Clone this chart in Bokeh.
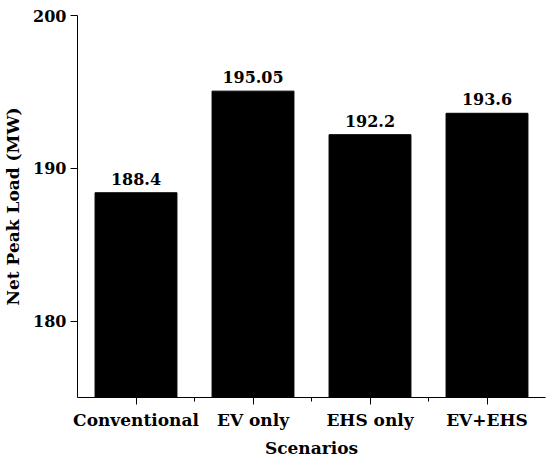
from bokeh.plotting import figure
from bokeh.models import ColumnDataSource, Range1d, FixedTicker
from bokeh.core.properties import value
from bokeh.embed import file_html
from bokeh.resources import INLINE

categories = ["Conventional", "EV only", "EHS only", "EV+EHS"]
values = [188.4, 195.05, 192.2, 193.6]
value_labels = ["188.4", "195.05", "192.2", "193.6"]
y_ticks = [180, 190, 200]

xs = [i + 0.5 for i in range(len(categories))]
FONT = "DejaVu Serif"

src = ColumnDataSource(dict(x=xs, top=values, label=value_labels))

p = figure(width=548, height=460, output_backend="svg", toolbar_location=None,
           x_range=Range1d(0, len(categories)), y_range=Range1d(175, 200),
           min_border_left=75, min_border_right=3, min_border_top=15, min_border_bottom=63)
p.outline_line_color = None
p.grid.visible = False
p.background_fill_color = "white"
p.border_fill_color = "white"

p.vbar(x="x", top="top", bottom=175, width=0.7, source=src,
       fill_color="black", line_color="black")

p.text(x="x", y="top", text="label", source=src, text_align="center",
       text_baseline="bottom", y_offset=-8, text_font=value(FONT),
       text_font_style="bold", text_font_size=value("16px"), text_color="black")

xa = p.xaxis[0]
xa.ticker = FixedTicker(ticks=xs, minor_ticks=[1, 2, 3])
xa.major_label_overrides = {x: c for x, c in zip(xs, categories)}
xa.axis_label = "Scenarios"
ya = p.yaxis[0]
ya.ticker = FixedTicker(ticks=y_ticks, minor_ticks=[])
ya.axis_label = "Net Peak Load (MW)"

for ax in (xa, ya):
    ax.major_label_text_font = FONT
    ax.major_label_text_font_style = "bold"
    ax.major_label_text_color = "black"
    ax.axis_label_text_font = FONT
    ax.axis_label_text_font_style = "bold"
    ax.axis_label_text_font_size = "17px"
    ax.axis_label_text_color = "black"
    ax.axis_line_color = "black"
    ax.major_tick_line_color = "black"
    ax.minor_tick_line_color = "black"
    ax.major_tick_out = 7
    ax.major_tick_in = 0
    ax.minor_tick_out = 4
    ax.minor_tick_in = 0

xa.major_label_text_font_size = "17px"
ya.major_label_text_font_size = "16px"
xa.major_label_standoff = 5
xa.axis_label_standoff = 5
ya.major_label_standoff = 4
ya.axis_label_standoff = 7

open("out.html", "w").write(file_html(p, INLINE))
